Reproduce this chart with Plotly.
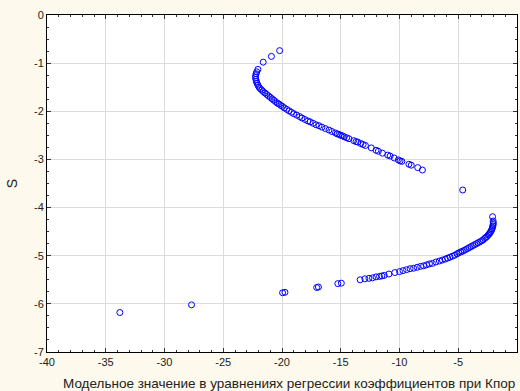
import plotly.graph_objects as go

# Upper branch of the scatter (x: model value, y: S)
upper_x = [-20.2, -20.9, -21.6, -22.05, -22.15, -22.2, -22.25, -22.25, -22.22, -22.18,
           -22.12, -22.05, -21.95, -21.85, -21.72, -21.6, -21.45, -21.3, -21.15, -21.0,
           -20.85, -20.7, -20.55, -20.4, -20.25, -20.1, -19.95, -19.8, -19.6, -19.4,
           -19.2, -19.0, -18.75, -18.5, -18.3, -18.05, -17.8, -17.6, -17.35, -17.1,
           -16.85, -16.6, -16.3, -16.0, -15.75, -15.45, -15.3, -15.15, -15.0, -14.85,
           -14.7, -14.5, -14.3, -13.9, -13.7, -13.55, -13.3, -13.1, -12.9, -12.4,
           -12.0, -11.8, -11.45, -11.0, -10.8, -10.45, -10.1, -9.95, -9.8, -9.2,
           -9.0, -8.45, -8.05, -4.62]
upper_y = [-0.74, -0.86, -0.98, -1.13, -1.18, -1.22, -1.26, -1.30, -1.34, -1.38,
           -1.42, -1.46, -1.50, -1.53, -1.56, -1.59, -1.62, -1.65, -1.68, -1.71,
           -1.74, -1.77, -1.80, -1.83, -1.85, -1.88, -1.90, -1.93, -1.96, -1.99,
           -2.02, -2.05, -2.08, -2.11, -2.14, -2.17, -2.20, -2.22, -2.25, -2.28,
           -2.30, -2.33, -2.36, -2.39, -2.42, -2.45, -2.47, -2.48, -2.50, -2.51,
           -2.53, -2.55, -2.57, -2.61, -2.63, -2.64, -2.67, -2.69, -2.71, -2.76,
           -2.81, -2.83, -2.87, -2.91, -2.93, -2.97, -3.01, -3.03, -3.04, -3.10,
           -3.12, -3.17, -3.22, -3.635]

# Lower branch of the scatter
lower_x = [-33.8, -27.7, -19.95, -19.75, -17.05, -16.9, -15.25, -14.95, -13.35, -12.95,
           -12.6, -12.3, -12.0, -11.7, -11.5, -11.3, -10.9, -10.4, -10.0, -9.7,
           -9.4, -9.1, -8.8, -8.5, -8.2, -7.95, -7.7, -7.45, -7.2, -6.9,
           -6.6, -6.35, -6.1, -5.9, -5.7, -5.5, -5.3, -5.1, -4.95, -4.8,
           -4.65, -4.5, -4.35, -4.2, -4.05, -3.9, -3.75, -3.6, -3.45, -3.3,
           -3.15, -3.0, -2.88, -2.75, -2.65, -2.55, -2.45, -2.37, -2.3, -2.23,
           -2.17, -2.12, -2.08, -2.05, -2.03, -2.02, -2.03, -2.08]
lower_y = [-6.18, -6.02, -5.77, -5.76, -5.66, -5.65, -5.58, -5.57, -5.50, -5.48,
           -5.47, -5.46, -5.44, -5.43, -5.42, -5.41, -5.38, -5.35, -5.33, -5.31,
           -5.29, -5.27, -5.26, -5.24, -5.22, -5.21, -5.19, -5.17, -5.16, -5.13,
           -5.11, -5.09, -5.07, -5.05, -5.03, -5.01, -4.99, -4.96, -4.94, -4.92,
           -4.91, -4.89, -4.87, -4.85, -4.83, -4.81, -4.79, -4.77, -4.75, -4.73,
           -4.71, -4.69, -4.67, -4.64, -4.62, -4.60, -4.57, -4.55, -4.52, -4.50,
           -4.47, -4.44, -4.41, -4.38, -4.35, -4.32, -4.28, -4.19]

x_ticks = [-40, -35, -30, -25, -20, -15, -10, -5, 0]
y_ticks = [0, -1, -2, -3, -4, -5, -6, -7]

x_title = "Модельное значение в уравнениях регрессии коэффициентов при Кпор"
y_title = "S"

FONT = "Liberation Sans, Arial, sans-serif"
marker = dict(symbol="circle-open", size=6, color="#0000FF", line=dict(width=1, color="#0000FF"))

fig = go.Figure()
fig.add_trace(go.Scatter(x=upper_x, y=upper_y, mode="markers", marker=marker, showlegend=False))
fig.add_trace(go.Scatter(x=lower_x, y=lower_y, mode="markers", marker=marker, showlegend=False))

axis_common = dict(
    showline=True, linecolor="#000000", linewidth=1, mirror="ticks",
    ticks="inside", ticklen=4, tickcolor="#333333",
    showgrid=True, gridcolor="#DCDCDC", gridwidth=1,
    zeroline=False,
    tickfont=dict(family=FONT, size=11, color="#222222"),
)

fig.update_xaxes(
    range=[-40, 0], tickvals=x_ticks, ticktext=[str(v) for v in x_ticks],
    minor=dict(dtick=1, ticks="inside", ticklen=2, tickcolor="#333333", showgrid=False),
    **axis_common,
)
fig.update_yaxes(
    range=[-7, 0], tickvals=y_ticks, ticktext=[str(v) for v in y_ticks],
    minor=dict(dtick=0.25, ticks="inside", ticklen=2, tickcolor="#333333", showgrid=False),
    **axis_common,
)

fig.add_annotation(text=x_title, xref="paper", yref="paper", x=0.515, y=-0.066,
                   xanchor="center", yanchor="top", showarrow=False,
                   font=dict(family=FONT, size=13.5, color="#222222"))
fig.add_annotation(text=y_title, xref="paper", yref="paper", x=-0.075, y=0.5,
                   xanchor="center", yanchor="middle", showarrow=False, textangle=-90,
                   font=dict(family=FONT, size=14, color="#222222"))

fig.update_layout(
    width=520, height=391,
    margin=dict(l=47, r=3, t=15, b=39),
    paper_bgcolor="#FDF9EC", plot_bgcolor="#FFFFFF",
    font=dict(family=FONT),
)

fig.write_html("out.html")
